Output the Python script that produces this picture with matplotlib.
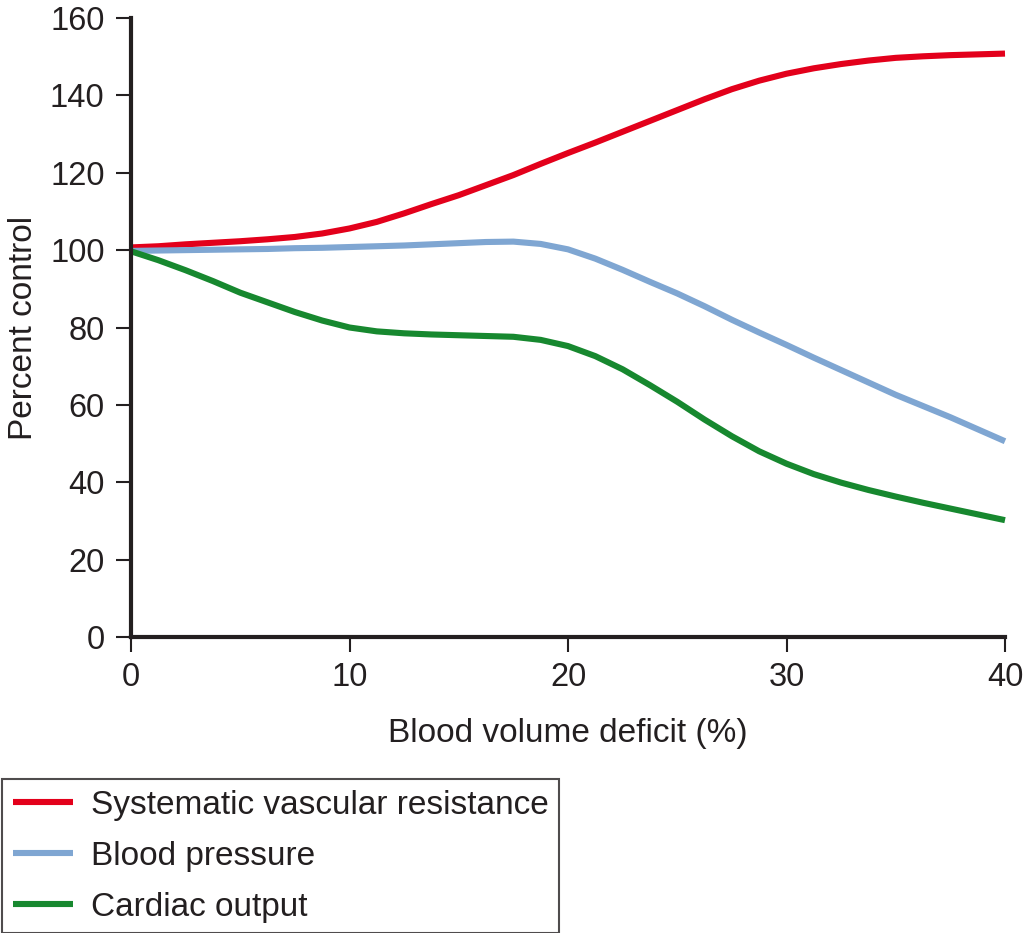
import matplotlib
matplotlib.use("Agg")
import matplotlib.pyplot as plt

plt.rcParams["font.family"] = ["Liberation Sans", "DejaVu Sans"]

# values, every 1.25 % of deficit
deficit = [0, 1.25, 2.5, 3.75, 5, 6.25, 7.5, 8.75, 10, 11.25, 12.5, 13.75, 15, 16.25, 17.5, 18.75,
           20, 21.25, 22.5, 23.75, 25, 26.25, 27.5, 28.75, 30, 31.25, 32.5, 33.75, 35, 36.25,
           37.5, 38.75, 40]
resistance = [100.7, 101.0, 101.5, 101.9, 102.3, 102.8, 103.4, 104.3, 105.6, 107.3, 109.5, 111.9,
              114.2, 116.8, 119.4, 122.3, 125.1, 127.8, 130.6, 133.4, 136.2, 139.0, 141.6, 143.8,
              145.6, 147.0, 148.1, 149.0, 149.7, 150.1, 150.4, 150.6, 150.8]
pressure = [99.8, 99.9, 100.0, 100.1, 100.2, 100.3, 100.5, 100.6, 100.8, 101.0, 101.2, 101.5,
            101.8, 102.1, 102.2, 101.6, 100.2, 97.8, 94.9, 91.8, 88.8, 85.5, 82.0, 78.7,
            75.5, 72.2, 69.0, 65.8, 62.6, 59.7, 56.8, 53.7, 50.6]
cardiac = [99.7, 97.4, 94.8, 92.0, 89.0, 86.5, 84.0, 81.8, 80.0, 79.0, 78.5, 78.2,
           78.0, 77.8, 77.6, 76.8, 75.2, 72.6, 69.2, 65.1, 60.8, 56.2, 51.9, 48.0,
           44.8, 42.1, 39.9, 38.0, 36.3, 34.7, 33.2, 31.7, 30.2]

labels = ["Systematic vascular resistance", "Blood pressure", "Cardiac output"]
colors = ["#e3001b", "#7fa6d2", "#17882f"]
txt = "#231f20"

fig = plt.figure(figsize=(10.25, 9.33), dpi=100)
ax = fig.add_axes([131 / 1025, 1 - 637 / 933, (1005 - 131) / 1025, (637 - 18) / 933])

lines = []
for ys, lab, c in zip([resistance, pressure, cardiac], labels, colors):
    ln, = ax.plot(deficit, ys, color=c, lw=4.4, label=lab, solid_capstyle="butt",
                  solid_joinstyle="round", clip_on=False)
    lines.append(ln)

ax.set_xlim(0, 40)
ax.set_ylim(0, 160)
ax.set_xticks([0, 10, 20, 30, 40])
ax.set_yticks(range(0, 161, 20))
for s in ["top", "right"]:
    ax.spines[s].set_visible(False)
for s in ["left", "bottom"]:
    ax.spines[s].set_linewidth(3)
    ax.spines[s].set_color(txt)
ax.tick_params(length=11, width=1.5, color=txt, labelsize=23.5, labelcolor=txt)
ax.tick_params(axis="x", pad=7)
ax.tick_params(axis="y", pad=8)

ax.set_xlabel("Blood volume deficit (%)", fontsize=24, color=txt, labelpad=18)
ax.set_ylabel("Percent control", fontsize=24, color=txt, labelpad=8)

leg = fig.legend(lines, labels, loc="upper left", bbox_to_anchor=(2 / 1025, 1 - 779 / 933),
                 borderaxespad=0, fontsize=24, frameon=True, fancybox=False,
                 handlelength=1.8, handletextpad=0.55, labelspacing=0.6, borderpad=0.32)
leg.get_frame().set_edgecolor(txt)
leg.get_frame().set_linewidth(1.5)
for t in leg.get_texts():
    t.set_color(txt)

fig.savefig("out.png", dpi=100)
